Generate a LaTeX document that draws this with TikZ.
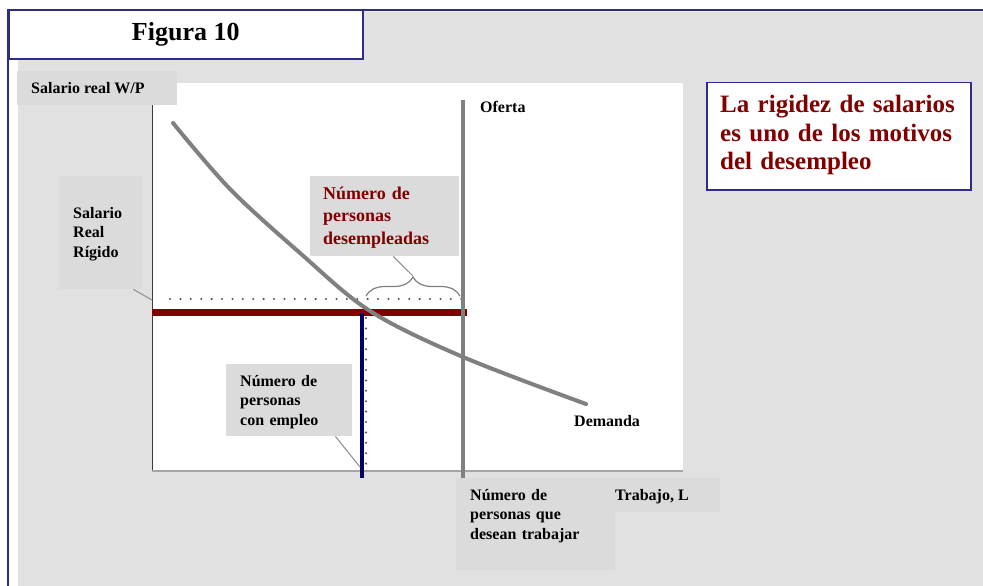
\documentclass[tikz,border=0pt]{standalone}
\usepackage{fontspec}
\setmainfont{Liberation Serif}
\usetikzlibrary{decorations.pathreplacing}
\definecolor{panel}{RGB}{225,225,225}
\definecolor{lblgray}{RGB}{219,219,219}
\definecolor{frameblue}{RGB}{45,45,130}
\definecolor{dred}{RGB}{128,0,0}
\definecolor{curvegray}{RGB}{128,128,128}
\definecolor{navyline}{RGB}{0,0,100}
\definecolor{axisdark}{RGB}{60,60,60}
\definecolor{axislight}{RGB}{165,165,165}
\definecolor{dotgray}{RGB}{85,85,85}
\begin{document}
\begin{tikzpicture}[x=1pt,y=-1pt,
  lblbox/.style={fill=lblgray, inner sep=0pt, anchor=north west},
  lbltxt/.style={inner sep=0pt, anchor=base west, align=left, font=\bfseries\fontsize{16}{19.5}\selectfont},
  redtxt/.style={inner sep=0pt, anchor=base west, align=left, text=dred, font=\bfseries\fontsize{18}{22.5}\selectfont},
  conn/.style={draw=curvegray!90, line width=1pt},
  dotline/.style={draw=dotgray, line width=2.3pt, line cap=round, dash pattern=on 0pt off 10.4pt}
]
\useasboundingbox (0,0) rectangle (983,586);
\fill[white] (0,0) rectangle (983,586);
% gray panel
\fill[panel, rounded corners=6pt] (18,11.5) rectangle (995,600);
% outer frame lines
\draw[frameblue, line width=1.5pt] (8,590) -- (8,10) -- (990,10);
% plot area
\fill[white] (152,83) rectangle (683,471);

% key coordinates
\coordinate (ytop) at (152,105);
\coordinate (O) at (152,471);
\coordinate (xend) at (683,471);
\coordinate (ofTop) at (463,100);
\coordinate (ofBot) at (463,478);
\coordinate (rL) at (152,312);
\coordinate (rR) at (467,312);
\coordinate (bTop) at (362,313);
\coordinate (bBot) at (362,478);
\coordinate (dhL) at (170,299);
\coordinate (dhR) at (462,299);
\coordinate (dvT) at (366,318);
\coordinate (dvB) at (366,470);
\coordinate (brL) at (366,296);
\coordinate (brR) at (460,296);
\coordinate (brTip) at (413,276);
\coordinate (rigEnd) at (152,300);
\coordinate (empEnd) at (360,467);

% axes
\draw[axisdark, line width=1pt] (ytop) -- (O);
\draw[axislight, line width=2pt] (O) -- (xend);

% dotted guide lines
\draw[dotline] (dhL) -- (dhR);
\draw[dotline] (dvT) -- (dvB);

% rigid real wage line
\draw[dred, line width=7pt] (rL) -- (rR);
% supply (Oferta)
\draw[curvegray, line width=4pt] (ofTop) -- (ofBot);
% demand curve
\draw[curvegray, line width=4pt, line cap=round] plot[smooth, tension=0.55] coordinates {(173,123) (230,189) (300,253) (370,311) (463,357) (586,404)};
% employment line
\draw[navyline, line width=3.5pt] (bTop) -- (bBot);

% brace
\draw[curvegray, line width=1.2pt, decorate, decoration={brace, amplitude=19pt}] (brL) -- (brR);

% title
\node[draw=frameblue, line width=1.5pt, fill=white, minimum width=354pt, minimum height=49pt,
      anchor=north west, inner sep=0pt, font=\bfseries\fontsize{26}{30}\selectfont] (title) at (8,9.5) {Figura 10};

% y-axis label
\node[lblbox, minimum width=160pt, minimum height=34pt] (ylabbox) at (17,71) {};
\node[lbltxt] (ylab) at (31,93) {Salario real W/P};

% Salario Real Rigido
\node[lblbox, minimum width=83pt, minimum height=113pt] (rigbox) at (59,176) {};
\node[lbltxt, text width=60pt] (rig) at (73,218) {Salario\\Real\\Rígido};
\draw[conn] ([xshift=-9pt]rigbox.south east) -- (rigEnd);

% Desempleados
\node[lblbox, minimum width=149pt, minimum height=80pt] (desbox) at (310,176) {};
\node[redtxt, text width=130pt] (des) at (323,199) {Número de\\personas\\desempleadas};
\draw[conn] ([xshift=8.5pt]desbox.south) -- (brTip);

% Con empleo
\node[lblbox, minimum width=126pt, minimum height=72pt] (empbox) at (226,364) {};
\node[lbltxt, text width=105pt] (emp) at (240,386) {Número de\\personas\\con empleo};
\draw[conn] ([xshift=-17pt]empbox.south east) -- (empEnd);

% Desean trabajar
\node[lblbox, minimum width=159pt, minimum height=92pt] (desbox2) at (456,478) {};
\node[lbltxt, text width=140pt] (desean) at (470,500) {Número de\\personas que\\desean trabajar};

% Trabajo, L
\node[lblbox, minimum width=106pt, minimum height=34pt] (trbox) at (614,478) {};
\node[lbltxt] (trab) at (615,500) {Trabajo, L};

% Oferta / Demanda labels
\node[lbltxt] (of) at (480,113) {Oferta};
\node[lbltxt] (dem) at (574,426) {Demanda};

% message box
\node[draw=frameblue, line width=1.5pt, fill=white, minimum width=264pt, minimum height=107pt,
      anchor=north west, inner sep=0pt] (msgbox) at (706,82) {};
\node[inner sep=0pt, anchor=base west, align=left, text width=250pt, text=dred,
      font=\bfseries\fontsize{25}{28.5}\selectfont] (msg) at (720,113)
      {La rigidez de salarios\\es uno de los motivos\\del desempleo};
\end{tikzpicture}
\end{document}
